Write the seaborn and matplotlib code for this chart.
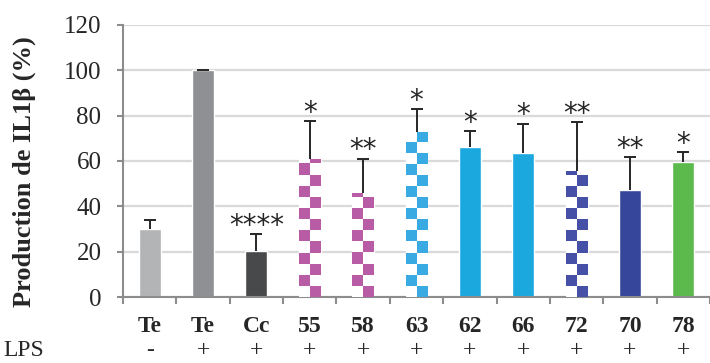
# -*- coding: utf-8 -*-

import numpy as np
import pandas as pd
import matplotlib
matplotlib.use('Agg')
import matplotlib.pyplot as plt
from matplotlib.colors import ListedColormap
from matplotlib.transforms import blended_transform_factory
import seaborn as sns

# Chart data
groups = ['Te', 'Te', 'Cc', '55', '58', '63', '62', '66', '72', '70', '78']
lps = ['-', '+', '+', '+', '+', '+', '+', '+', '+', '+', '+']
values = [30.1, 100.0, 20.3, 61.0, 46.0, 73.0, 66.0, 63.4, 55.8, 47.4, 59.4]
errors = [3.9, 0.0, 7.5, 16.5, 15.1, 9.8, 7.1, 13.0, 21.2, 14.2, 4.5]
stars = ['', '', '****', '*', '**', '*', '*', '*', '**', '**', '*']
colors = ['#b3b4b6', '#8f9093', '#48494b', '#b85ca5', '#b85ca5', '#3aabe2',
          '#1ba8df', '#1ba8df', '#4650a6', '#36479b', '#5cb94c']
checkered = [False, False, False, True, True, True,
             False, False, True, False, False]

ids = ['{0} {1}'.format(g, i) for i, g in enumerate(groups)]
df = pd.DataFrame({'id': ids, 'value': values})

sns.set_style('white')
plt.rcParams['font.family'] = ['Liberation Serif', 'DejaVu Serif']

fig = plt.figure(figsize=(7.1, 3.63), dpi=100)
ax = fig.add_axes([123 / 710, 66 / 363, 587 / 710, 272 / 363])

sns.barplot(data=df, x='id', y='value', hue='id', order=ids,
            palette=colors, legend=False, width=0.41, saturation=1,
            ax=ax, zorder=2)

ax.set_xlim(-0.5, 10.37)
ax.set_ylim(0, 120)
ax.set_yticks(np.arange(0, 121, 20))
ax.yaxis.grid(True, color='#d9d9d9', linewidth=1.6, zorder=0)
ax.set_axisbelow(True)

# Checkerboard fill for patterned bars, clipped to each bar
fig.canvas.draw()
centers = []
for patch, col, chk in zip(ax.patches, colors, checkered):
    x0, y0 = patch.get_x(), patch.get_y()
    w, h = patch.get_width(), patch.get_height()
    centers.append(x0 + w / 2)
    if not chk:
        continue
    patch.set_facecolor('white')
    p0 = ax.transData.transform((x0, y0))
    p1 = ax.transData.transform((x0 + w, y0 + h))
    sq_px = (p1[0] - p0[0]) / 2
    nrows = int(np.ceil((p1[1] - p0[1]) / sq_px))
    sq_data = h / ((p1[1] - p0[1]) / sq_px)
    board = np.indices((nrows, 2)).sum(axis=0) % 2
    im = ax.imshow(board, cmap=ListedColormap(['white', col]),
                   extent=(x0, x0 + w, y0, y0 + nrows * sq_data),
                   origin='lower', interpolation='nearest',
                   aspect='auto', zorder=3)
    im.set_clip_path(patch)
ax.set_xlim(-0.5, 10.37)
ax.set_ylim(0, 120)

# Error bars (upper only)
_, caps, _ = ax.errorbar(centers, values,
                         yerr=[np.zeros(len(errors)), errors],
                         fmt='none', ecolor='#262626', elinewidth=1.4,
                         capsize=4, capthick=1.4, zorder=4)
caps[0].set_visible(False)

# Significance stars
for x, v, e, s in zip(centers, values, errors, stars):
    if s:
        ax.annotate(s, (x, v + e), xytext=(0, -4),
                    textcoords='offset points', ha='center', va='bottom',
                    fontsize=20, family='DejaVu Sans', color='#262626')

# Spines and ticks
for side in ['top', 'right']:
    ax.spines[side].set_visible(False)
for side in ['left', 'bottom']:
    ax.spines[side].set_color('#8c8c8c')
    ax.spines[side].set_linewidth(1.5)

ax.set_xticks(range(len(groups)))
ax.set_xticklabels(groups, fontweight='bold', fontsize=17)
ax.set_xticks(np.arange(-0.5, len(groups), 1), minor=True)
ax.tick_params(axis='x', which='major', length=0, pad=14)
ax.tick_params(axis='x', which='minor', length=5, width=1.5,
               color='#8c8c8c', direction='out', bottom=True)
ax.tick_params(axis='y', length=4.5, width=1.5, color='#8c8c8c',
               direction='out', left=True, pad=11, labelsize=18)

ax.set_xlabel('')
ax.set_ylabel('Production de IL1β (%)', fontweight='bold', fontsize=19)
ax.yaxis.set_label_coords(-0.148, 0.46)

# LPS row
trans = blended_transform_factory(ax.transData, ax.transAxes)
for i, sign in enumerate(lps):
    ax.text(i, -0.196, sign, transform=trans, ha='center', va='center',
            fontsize=17)
fig.text(3 / 710, 1 - 350 / 363, 'LPS', ha='left', va='center', fontsize=17)

plt.savefig('out.png', dpi=100)
plt.close()
